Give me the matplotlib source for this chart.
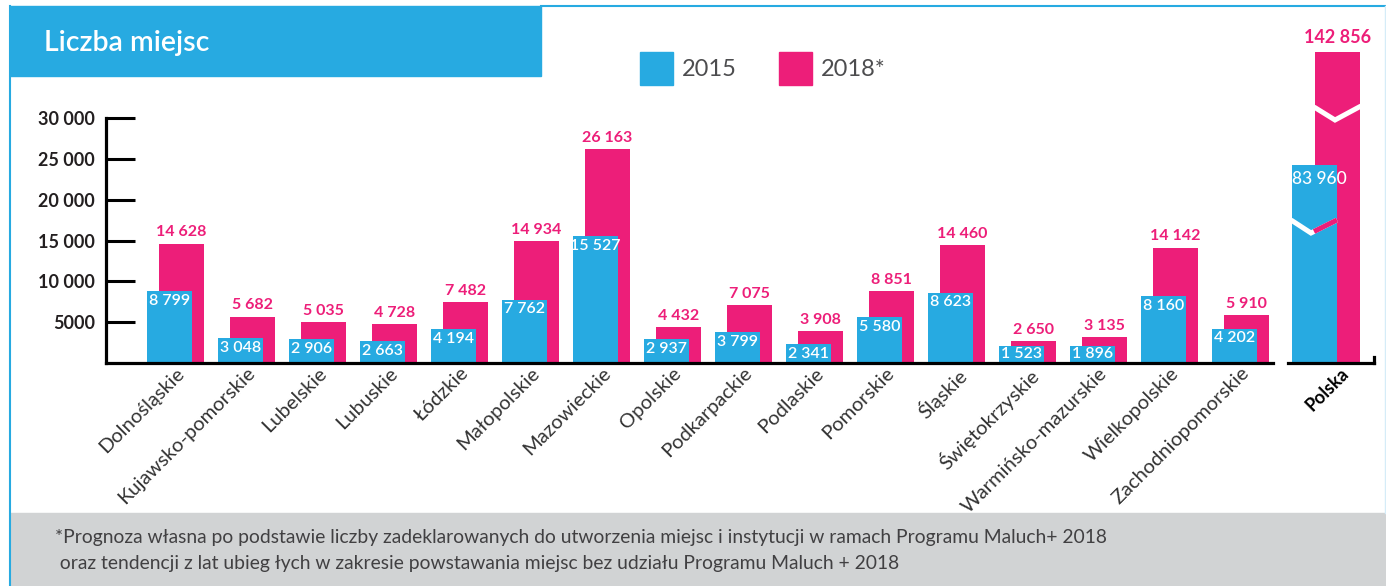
import numpy as np
import matplotlib
matplotlib.use('Agg')
import matplotlib.pyplot as plt
from matplotlib.patches import Rectangle
from matplotlib.lines import Line2D

plt.rcParams['font.family'] = ['Lato', 'DejaVu Sans']

# dane
regions = ['Dolnośląskie', 'Kujawsko-pomorskie', 'Lubelskie', 'Lubuskie', 'Łódzkie',
           'Małopolskie', 'Mazowieckie', 'Opolskie', 'Podkarpackie', 'Podlaskie',
           'Pomorskie', 'Śląskie', 'Świętokrzyskie', 'Warmińsko-mazurskie',
           'Wielkopolskie', 'Zachodniopomorskie']
v2015 = [8799, 3048, 2906, 2663, 4194, 7762, 15527, 2937, 3799, 2341,
         5580, 8623, 1523, 1896, 8160, 4202]
v2018 = [14628, 5682, 5035, 4728, 7482, 14934, 26163, 4432, 7075, 3908,
         8851, 14460, 2650, 3135, 14142, 5910]
polska_label = 'Polska'
polska_2015 = 83960
polska_2018 = 142856
yticks = [5000, 10000, 15000, 20000, 25000, 30000]
ytick_labels = ['5000', '10 000', '15 000', '20 000', '25 000', '30 000']
series_labels = ['2015', '2018*']
title = 'Liczba miejsc'
footnote = ['*Prognoza własna po podstawie liczby zadeklarowanych do utworzenia miejsc i instytucji w ramach Programu Maluch+ 2018',
            ' oraz tendencji z lat ubieg łych w zakresie powstawania miejsc bez udziału Programu Maluch + 2018']

BLUE = '#27aae1'
PINK = '#ed1e79'
DARK = '#231f20'

W, H = 1386, 586


def fmt(v):
    return f'{v:,}'.replace(',', ' ')


def box(l, t, r, b):
    return [l / W, 1 - b / H, (r - l) / W, (b - t) / H]


fig = plt.figure(figsize=(W / 100, H / 100), dpi=100)

# ramka, tytul, stopka
fig.patches.append(Rectangle((10 / W, 0), 1 - 10 / W, 73 / H, transform=fig.transFigure,
                             color='#d1d3d4', zorder=0))
fig.patches.append(Rectangle((10 / W, 1 - 76 / H), 531 / W, 70 / H, transform=fig.transFigure,
                             color=BLUE, zorder=0))
fig.lines.append(Line2D([541 / W, 1], [1 - 6 / H] * 2, transform=fig.transFigure, color=BLUE, lw=1.5))
fig.lines.append(Line2D([10 / W] * 2, [0, 1 - 6 / H], transform=fig.transFigure, color=BLUE, lw=1.5))
fig.lines.append(Line2D([1385 / W] * 2, [1 - 513 / H, 1 - 6 / H], transform=fig.transFigure,
                        color='#d5ecf8', lw=1))
fig.text(44 / W, 1 - 43 / H, title, color='white', fontsize=20.5, fontweight='semibold', va='center')
fig.text(55 / W, 1 - 538 / H, footnote[0], color='#414042', fontsize=13.9, va='center')
fig.text(55 / W, 1 - 563 / H, footnote[1], color='#414042', fontsize=13.9, va='center')

# legenda
for (x0, col, lab) in [(640, BLUE, series_labels[0]), (779, PINK, series_labels[1])]:
    fig.patches.append(Rectangle((x0 / W, 1 - 85 / H), 33 / W, 33 / H, transform=fig.transFigure, color=col))
    fig.text((x0 + 42) / W, 1 - 69 / H, lab, color='#4d4d4f', fontsize=17, va='center')

# wojewodztwa
ax = fig.add_axes(box(106, 118, 1273, 363))
x = np.arange(len(regions))
off = 6 / 71
bw = 45 / 71
ax.bar(x + off, v2018, bw, color=PINK, zorder=2)
ax.bar(x - off, v2015, bw, color=BLUE, zorder=3)
ax.set_xlim(-0.979, 15.458)
ax.set_ylim(0, 30000)

for i in range(len(regions)):
    ax.annotate(fmt(v2018[i]), (x[i] + off, v2018[i]), xytext=(0, 3), textcoords='offset points',
                ha='center', va='bottom', color=PINK, fontsize=11.5, fontweight='bold', zorder=5)
    yy = max(v2015[i], 2250)
    ax.annotate(fmt(v2015[i]), (x[i] - off, yy), xytext=(0, -2), textcoords='offset points',
                ha='center', va='top', color='white', fontsize=11.5, fontweight='semibold', zorder=5,
                bbox=dict(boxstyle='square,pad=0.1', fc=BLUE, ec='none') if v2015[i] < 2250 else None)

for s in ['top', 'right']:
    ax.spines[s].set_visible(False)
for s in ['left', 'bottom']:
    ax.spines[s].set_linewidth(2.3)
    ax.spines[s].set_color('black')
    ax.spines[s].set_zorder(6)
ax.set_yticks(yticks)
ax.set_yticklabels(ytick_labels, fontweight='bold', color=DARK)
ax.tick_params(axis='y', direction='in', length=21, width=2.2, pad=8, labelsize=13)
ax.set_xticks(x)
ax.set_xticklabels(regions, rotation=45, ha='right', va='top', rotation_mode='anchor',
                   fontsize=14.5, color='#333333')
ax.tick_params(axis='x', length=0, pad=1)

# Polska
pax = fig.add_axes(box(1288, 52, 1374, 363))
pax.set_yscale('function', functions=(lambda v: np.sign(v) * np.abs(v) ** 0.85,
                                      lambda v: np.sign(v) * np.abs(v) ** (1 / 0.85)))
pax.set_xlim(-0.532, 0.680)
pax.set_ylim(0, polska_2018)
pax.bar(0.165, polska_2018, bw, color=PINK, zorder=2)
pax.bar(-0.165, polska_2015, bw, color=BLUE, zorder=3)
pax.annotate(fmt(polska_2018), (0.165, polska_2018), xytext=(0, 4), textcoords='offset points',
             ha='center', va='bottom', color=PINK, fontsize=13, fontweight='bold', annotation_clip=False)
pax.annotate(fmt(polska_2015), (-0.09, polska_2015), xytext=(0, -4), textcoords='offset points',
             ha='center', va='top', color='white', fontsize=12.5, fontweight='medium', zorder=5)


def px(xp, yp):
    return [(a - 1288) / 86 for a in xp], [(363 - b) / 311 for b in yp]


pax.plot(*px([1314, 1335, 1361], [107, 120, 106]), transform=pax.transAxes, color='white',
         lw=3.6, solid_joinstyle='miter', solid_capstyle='butt', zorder=4, clip_on=False)
pax.plot(*px([1291, 1311, 1337], [220, 233, 220]), transform=pax.transAxes, color='white',
         lw=3.6, solid_joinstyle='miter', solid_capstyle='butt', zorder=4, clip_on=False)
pax.plot(*px([1314, 1337], [231.5, 220]), transform=pax.transAxes, color=PINK,
         lw=3.6, solid_capstyle='butt', zorder=4, clip_on=False)

for s in ['top', 'left']:
    pax.spines[s].set_visible(False)
for s in ['bottom', 'right']:
    pax.spines[s].set_linewidth(2.3)
    pax.spines[s].set_color('black')
    pax.spines[s].set_zorder(6)
pax.spines['right'].set_bounds(0, 1300)
pax.set_yticks([])
pax.set_xticks([0.2])
pax.set_xticklabels([polska_label], rotation=45, ha='right', va='top', rotation_mode='anchor',
                    fontsize=13, fontweight='bold', color='black')
pax.tick_params(axis='x', length=0, pad=1)

fig.savefig('out.png', dpi=100)
